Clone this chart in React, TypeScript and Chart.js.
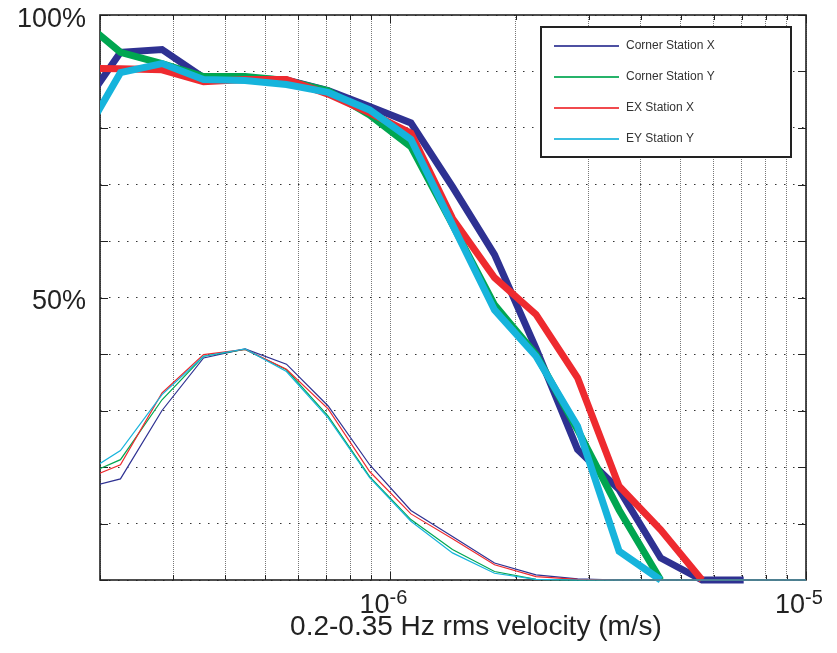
import { useEffect, useRef } from 'react';
import { Chart, registerables } from 'chart.js';

Chart.register(...registerables);

// rms velocity bin centres (m/s)
const velocityBins = [
  1.78e-7, 2.24e-7, 2.82e-7, 3.55e-7, 4.47e-7, 5.62e-7, 7.08e-7, 8.91e-7,
  1.12e-6, 1.41e-6, 1.78e-6, 2.24e-6, 2.82e-6, 3.55e-6, 4.47e-6, 5.62e-6,
  7.08e-6, 8.91e-6, 1.12e-5,
];

// cumulative (thick) curves, percent
const cumCornerX = [82.8, 93.4, 93.9, 88.9, 88.8, 88.5, 86.6, 83.8, 80.9, 69.6, 57.6, 41.0, 23.1, 16.0, 3.9, 0, 0, null, null];
const cumCornerY = [99.5, 93.4, 91.4, 89.1, 89.1, 88.4, 86.6, 82.3, 76.7, 62.9, 48.7, 39.9, 26.6, 12.4, 0, null, null, null, null];
const cumEXX = [90.6, 90.5, 90.3, 88.2, 88.6, 88.6, 86.0, 82.7, 79.1, 64.0, 53.5, 47.0, 35.8, 16.6, 8.9, 0, null, null, null];
const cumEYY = [77.1, 89.8, 91.4, 88.6, 88.4, 87.7, 86.3, 83.2, 78.0, 62.9, 47.8, 39.6, 27.2, 5.1, 0, null, null, null, null];

// distribution (thin) curves, percent
const distCornerX = [16.0, 17.9, 30.0, 39.3, 40.9, 38.2, 30.8, 20.4, 12.3, 7.7, 3.0, 0.9, 0.2, 0, 0, 0, 0, 0, 0];
const distCornerY = [18.1, 21.3, 31.9, 39.6, 40.8, 37.2, 29.0, 18.3, 10.7, 5.4, 1.5, 0.1, 0, 0, 0, 0, 0, 0, 0];
const distEXX = [17.4, 20.4, 33.1, 39.9, 40.8, 37.3, 30.3, 19.2, 11.7, 7.3, 2.7, 0.6, 0.1, 0, 0, 0, 0, 0, 0];
const distEYY = [18.3, 22.9, 32.8, 39.6, 40.9, 36.9, 28.7, 18.1, 10.4, 4.8, 1.2, 0.1, 0, 0, 0, 0, 0, 0, 0];

const seriesNames = ['Corner Station X', 'Corner Station Y', 'EX Station X', 'EY Station Y'];
const seriesColors = ['#2e3192', '#00a650', '#ee2a2f', '#16b4dc'];

const xGridTicks = [
  2e-7, 3e-7, 4e-7, 5e-7, 6e-7, 7e-7, 8e-7, 9e-7,
  1e-6, 2e-6, 3e-6, 4e-6, 5e-6, 6e-6, 7e-6, 8e-6, 9e-6, 1e-5,
];
const xTickLabels = [
  { value: 1e-6, base: '10', exp: '-6' },
  { value: 1e-5, base: '10', exp: '-5' },
];
const yTickValues = [0, 10, 20, 30, 40, 50, 60, 70, 80, 90, 100];
const yTickLabels = [
  { value: 50, text: '50%' },
  { value: 100, text: '100%' },
];
const xAxisTitle = '0.2-0.35 Hz rms velocity (m/s)';

const FONT = '"Liberation Sans", Arial, Helvetica, sans-serif';

const toPoints = (arr: (number | null)[]) =>
  velocityBins.map((v, i) => ({ x: v, y: arr[i] }));

const framePlugin = {
  id: 'matlabFrame',
  beforeDatasetsDraw(chart: any) {
    const { ctx, chartArea: a, scales } = chart;
    const x = scales.x;
    const y = scales.y;
    ctx.save();
    ctx.strokeStyle = '#222';
    ctx.lineWidth = 1;
    // y ticks (inside, both sides)
    yTickValues.forEach((v) => {
      const py = Math.round(y.getPixelForValue(v)) + 0.5;
      ctx.beginPath();
      ctx.moveTo(a.left, py);
      ctx.lineTo(a.left + 8, py);
      ctx.moveTo(a.right, py);
      ctx.lineTo(a.right - 8, py);
      ctx.stroke();
    });
    // x ticks (inside, top and bottom)
    xGridTicks.forEach((v) => {
      const px = Math.round(x.getPixelForValue(v)) + 0.5;
      const len = v === 1e-6 || v === 1e-5 ? 8 : 5;
      ctx.beginPath();
      ctx.moveTo(px, a.bottom);
      ctx.lineTo(px, a.bottom - len);
      ctx.moveTo(px, a.top);
      ctx.lineTo(px, a.top + len);
      ctx.stroke();
    });
    ctx.lineWidth = 1.6;
    ctx.strokeRect(a.left, a.top, a.right - a.left, a.bottom - a.top);

    // tick labels
    ctx.fillStyle = '#222';
    ctx.textBaseline = 'alphabetic';
    ctx.textAlign = 'right';
    ctx.font = `27px ${FONT}`;
    yTickLabels.forEach((t) => {
      const py = y.getPixelForValue(t.value);
      ctx.fillText(t.text, a.left - 14, py + 11.5);
    });
    ctx.textAlign = 'left';
    xTickLabels.forEach((t) => {
      const px = x.getPixelForValue(t.value);
      ctx.font = `27px ${FONT}`;
      const left = px - 31;
      ctx.fillText(t.base, left, a.bottom + 33);
      const w = ctx.measureText(t.base).width;
      ctx.font = `20px ${FONT}`;
      ctx.fillText(t.exp, left + w, a.bottom + 24);
    });
    ctx.textAlign = 'center';
    ctx.font = `28px ${FONT}`;
    ctx.fillText(xAxisTitle, 476, a.bottom + 55);
    ctx.restore();
  },
  afterDatasetsDraw(chart: any) {
    const { ctx } = chart;
    ctx.save();
    const bx = 541, by = 27, bw = 250, bh = 130;
    ctx.fillStyle = '#fff';
    ctx.fillRect(bx, by, bw, bh);
    ctx.strokeStyle = '#222';
    ctx.lineWidth = 2;
    ctx.strokeRect(bx, by, bw, bh);
    ctx.font = `12px ${FONT}`;
    ctx.textBaseline = 'middle';
    ctx.textAlign = 'left';
    seriesNames.forEach((name, i) => {
      const ry = 46 + i * 31;
      ctx.strokeStyle = seriesColors[i];
      ctx.globalAlpha = 0.85;
      ctx.lineWidth = 1.8;
      ctx.beginPath();
      ctx.moveTo(554, ry);
      ctx.lineTo(619, ry);
      ctx.stroke();
      ctx.globalAlpha = 1;
      ctx.fillStyle = '#333';
      ctx.fillText(name, 626, ry);
    });
    ctx.restore();
  },
};

export default function App() {
  const canvasRef = useRef<HTMLCanvasElement | null>(null);

  useEffect(() => {
    if (!canvasRef.current) return;
    const cumSeries = [cumCornerX, cumCornerY, cumEXX, cumEYY];
    const distSeries = [distCornerX, distCornerY, distEXX, distEYY];
    const datasets: any[] = [];
    cumSeries.forEach((arr, i) => {
      datasets.push({
        label: seriesNames[i],
        data: toPoints(arr),
        borderColor: seriesColors[i],
        backgroundColor: seriesColors[i],
        borderWidth: 7,
        pointRadius: 0,
        tension: 0,
        fill: false,
        spanGaps: false,
        order: 10 - i,
        clip: { left: 0, right: 0, top: 5, bottom: 5 },
      });
    });
    distSeries.forEach((arr, i) => {
      datasets.push({
        label: seriesNames[i] + ' distribution',
        data: toPoints(arr),
        borderColor: seriesColors[i],
        backgroundColor: seriesColors[i],
        borderWidth: 1.2,
        pointRadius: 0,
        tension: 0,
        fill: false,
        order: 5 - i,
        clip: { left: 0, right: 0, top: 2, bottom: 2 },
      });
    });

    const chart = new Chart(canvasRef.current, {
      type: 'line',
      data: { datasets },
      options: {
        animation: false,
        responsive: false,
        devicePixelRatio: 1,
        layout: { padding: { left: 0, right: 31, top: 15, bottom: 0 } },
        plugins: { legend: { display: false }, tooltip: { enabled: false } },
        scales: {
          x: {
            type: 'logarithmic',
            min: 2e-7,
            max: 1e-5,
            afterBuildTicks: (s: any) => {
              s.ticks = xGridTicks.map((v) => ({ value: v }));
            },
            afterFit: (s: any) => {
              s.height = 73;
            },
            ticks: { display: false },
            grid: { color: '#777', lineWidth: 1, drawTicks: false },
            border: { display: false, dash: [1, 1] },
          },
          y: {
            type: 'linear',
            min: 0,
            max: 100,
            afterBuildTicks: (s: any) => {
              s.ticks = yTickValues.map((v) => ({ value: v }));
            },
            afterFit: (s: any) => {
              s.width = 100;
            },
            ticks: { display: false },
            grid: { color: '#333', lineWidth: 1, drawTicks: false },
            border: { display: false, dash: [1.5, 7.5] },
          },
        },
      },
      plugins: [framePlugin],
    });
    return () => chart.destroy();
  }, []);

  return (
    <div style={{ position: 'absolute', left: 0, top: 0, width: 837, height: 653, background: '#fff' }}>
      <canvas ref={canvasRef} width={837} height={653} style={{ width: 837, height: 653, display: 'block' }} />
    </div>
  );
}
